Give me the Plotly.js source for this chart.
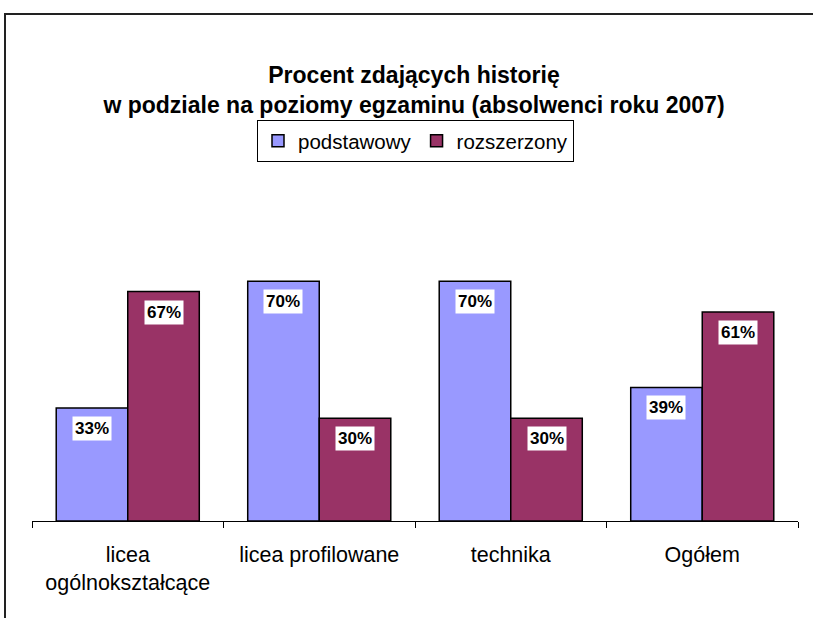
<!DOCTYPE html>
<html>
<head>
<meta charset="utf-8">
<script src="https://cdn.plot.ly/plotly-3.0.1.min.js"></script>
<style>
html,body{margin:0;padding:0;background:#fff;overflow:hidden;}
#chart{width:814px;height:618px;}
</style>
</head>
<body>
<div id="chart"></div>
<script>
const categories = ["licea<br>ogólnokształcące", "licea profilowane", "technika", "Ogółem"];
const seriesNames = ["podstawowy", "rozszerzony"];
const podstawowy = [33, 70, 70, 39];
const rozszerzony = [67, 30, 30, 61];
const seriesColors = ["#9999FF", "#993366"];
const titleText = "Procent zdających historię<br>w podziale na poziomy egzaminu (absolwenci roku 2007)";

const FONT = "Arial, 'Liberation Sans', sans-serif";
const bargap = 0.253;
const seriesData = [podstawowy, rozszerzony];

const traces = seriesData.map((vals, i) => ({
  type: "bar",
  name: seriesNames[i],
  x: categories,
  y: vals,
  marker: {color: seriesColors[i], line: {color: "#000", width: 1.5}},
  hoverinfo: "skip"
}));

const barW = (1 - bargap) / seriesData.length;
const annotations = [];
seriesData.forEach((vals, s) => {
  vals.forEach((v, c) => {
    annotations.push({
      xref: "x", yref: "y",
      x: c - (1 - bargap) / 2 + barW * (s + 0.5),
      y: v,
      text: "<b>" + v + "%</b>",
      showarrow: false,
      yanchor: "top",
      yshift: -8,
      bgcolor: "#fff",
      borderpad: 2,
      font: {family: FONT, size: 17, color: "#000"}
    });
  });
});

const L = 32, R = 16, T = 247, B = 97;
const plotW = 814 - L - R, plotH = 618 - T - B;
const px2x = p => (p - L) / plotW;
const px2y = p => (618 - B - p) / plotH;

const layout = {
  width: 814, height: 618,
  margin: {l: L, r: R, t: T, b: B},
  paper_bgcolor: "#fff", plot_bgcolor: "#fff",
  font: {family: FONT, color: "#000"},
  title: {
    text: "<b>" + titleText + "</b>",
    font: {family: FONT, size: 23, color: "#000"},
    x: 414 / 814, xanchor: "center", xref: "container",
    y: 1 - 83 / 618, yanchor: "middle", yref: "container"
  },
  barmode: "group",
  bargap: bargap,
  bargroupgap: 0,
  showlegend: true,
  legend: {
    orientation: "h",
    x: px2x(415.5), xanchor: "center",
    y: px2y(141), yanchor: "middle",
    bordercolor: "#000", borderwidth: 1,
    bgcolor: "#fff",
    font: {family: FONT, size: 20.5, color: "#000"},
    itemclick: false
  },
  xaxis: {
    type: "category",
    showline: true, linecolor: "#000", linewidth: 1,
    ticks: "outside", tickson: "boundaries", ticklen: 6, tickcolor: "#000", tickwidth: 1,
    tickfont: {family: FONT, size: 21.5, color: "#000"},
    ticklabelstandoff: 14,
    showgrid: false, zeroline: false, fixedrange: true
  },
  yaxis: {
    range: [0, 80],
    visible: false, showgrid: false, zeroline: false, fixedrange: true
  },
  annotations: annotations,
  shapes: [
    {type: "path", xref: "paper", yref: "paper",
     path: "M " + px2x(5) + "," + px2y(618) + " L " + px2x(5) + "," + px2y(14) +
           " L " + px2x(813) + "," + px2y(14),
     line: {color: "#222", width: 2}, layer: "below"}
  ]
};

Plotly.newPlot("chart", traces, layout, {displayModeBar: false, staticPlot: true});
</script>
</body>
</html>
